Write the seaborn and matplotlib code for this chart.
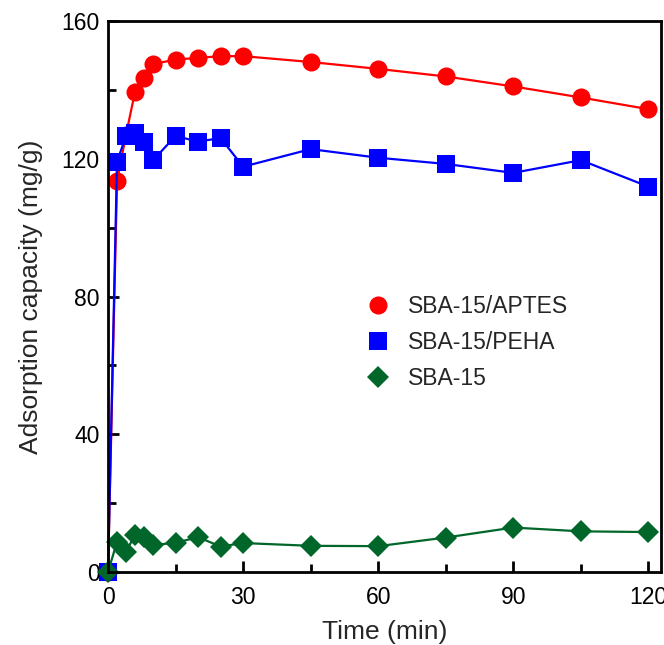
import matplotlib
matplotlib.use("Agg")
import matplotlib.pyplot as plt
from matplotlib.lines import Line2D
from matplotlib.ticker import MultipleLocator
import seaborn as sns
import pandas as pd

# Sampling times (min)
time_min = [0, 2, 4, 6, 8, 10, 15, 20, 25, 30, 45, 60, 75, 90, 105, 120]

# Adsorption capacity (mg/g) for each adsorbent
sba15_aptes = [0, 113.5, 127.0, 139.5, 143.4, 147.5, 148.8, 149.3, 149.8, 149.8,
               148.1, 146.1, 143.9, 141.0, 137.8, 134.4]
sba15_peha = [0, 119.2, 126.6, 127.4, 125.0, 119.6, 126.6, 125.0, 126.0, 117.7,
              122.8, 120.3, 118.5, 115.9, 119.6, 111.9]
sba15 = [0, 8.8, 5.9, 10.8, 10.2, 7.8, 8.5, 10.1, 7.4, 8.4,
         7.6, 7.5, 10.0, 12.9, 11.8, 11.6]

series_names = ["SBA-15/APTES", "SBA-15/PEHA", "SBA-15"]
series_values = [sba15_aptes, sba15_peha, sba15]
colors = ["#FF0000", "#0000FF", "#006629"]
markers = ["o", "s", "D"]
marker_sizes = [13, 12.5, 11]

sns.set_style("ticks")
plt.rcParams["font.family"] = ["Liberation Sans", "DejaVu Sans"]

fig = plt.figure(figsize=(6.64, 6.45), dpi=100)
ax = fig.add_axes([0.1627, 0.1132, 0.8328, 0.8542])

handles = []
for name, vals, c, m, ms in zip(series_names, series_values, colors, markers, marker_sizes):
    df = pd.DataFrame({"time": time_min, "capacity": vals})
    sns.lineplot(data=df, x="time", y="capacity", ax=ax, color=c, marker=m,
                 markersize=ms, markeredgewidth=0, linewidth=1.6, clip_on=False)
    handles.append(Line2D([], [], color=c, marker=m, markersize=ms,
                          markeredgewidth=0, linestyle="none", label=name))

ax.set_xlim(0, 122.8)
ax.set_ylim(0, 160)
ax.xaxis.set_major_locator(MultipleLocator(30))
ax.xaxis.set_minor_locator(MultipleLocator(15))
ax.yaxis.set_major_locator(MultipleLocator(40))
ax.yaxis.set_minor_locator(MultipleLocator(20))

for side in ["left", "bottom", "right", "top"]:
    ax.spines[side].set_visible(True)
    ax.spines[side].set_linewidth(2.0)
    ax.spines[side].set_color("black")

ax.tick_params(which="major", direction="in", length=8, width=2, labelsize=16.5,
               pad=6, top=False, right=False, colors="black")
ax.tick_params(which="minor", direction="in", length=5.5, width=2,
               top=False, right=False, colors="black")
ax.tick_params(axis="x", which="major", pad=10)

ax.set_xlabel("Time (min)", fontsize=19, labelpad=8)
ax.set_ylabel("Adsorption capacity (mg/g)", fontsize=19, labelpad=13)

ax.legend(handles=handles, loc="upper left", bbox_to_anchor=(0.535, 0.561),
          bbox_transform=fig.transFigure, frameon=False, fontsize=16.5,
          handlelength=1.0, handletextpad=0.8, labelspacing=0.57, borderpad=0)

fig.savefig("out.png", dpi=100)
